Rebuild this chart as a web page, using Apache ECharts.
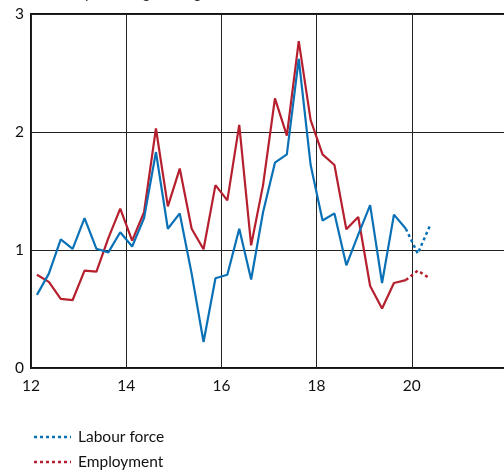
<!DOCTYPE html>
<html>
<head>
<meta charset="utf-8">
<script src="https://cdn.jsdelivr.net/npm/echarts@6/dist/echarts.min.js"></script>
<style>
html,body{margin:0;padding:0;background:#fff;}
#chart{width:504px;height:476px;}
</style>
</head>
<body>
<div id="chart"></div>
<script>
// Quarter positions (year + quarter midpoints)
const periods = [12.125,12.375,12.625,12.875,13.125,13.375,13.625,13.875,
  14.125,14.375,14.625,14.875,15.125,15.375,15.625,15.875,
  16.125,16.375,16.625,16.875,17.125,17.375,17.625,17.875,
  18.125,18.375,18.625,18.875,19.125,19.375,19.625,19.875];
const forecastPeriods = [19.875,20.125,20.375];

const labourForce = [0.62,0.80,1.09,1.01,1.27,1.01,0.98,1.15,
  1.03,1.27,1.83,1.18,1.31,0.80,0.22,0.76,
  0.79,1.18,0.75,1.32,1.74,1.81,2.62,1.72,
  1.25,1.31,0.87,1.13,1.38,0.72,1.30,1.18];
const labourForceForecast = [1.18,0.97,1.20];

const employment = [0.79,0.73,0.585,0.576,0.825,0.816,1.10,1.35,
  1.08,1.32,2.03,1.37,1.69,1.18,1.006,1.55,
  1.42,2.06,1.04,1.55,2.285,1.97,2.77,2.10,
  1.81,1.72,1.175,1.28,0.695,0.505,0.72,0.745];
const employmentForecast = [0.745,0.825,0.76];

const yTicks = [0,1,2,3];
const xTicks = [12,14,16,18,20];
const legendNames = ['Labour force','Employment'];

const BLUE = '#0a71b6';
const RED = '#b51f2e';
const FONT = 'Lato, "Open Sans", sans-serif';

function pairs(xs, ys){ return xs.map((x,i)=>[x, ys[i]]); }

const legendColors = [BLUE, RED];
const legendGraphics = [];
legendNames.forEach((name, i) => {
  const y = 437 + i * 25;
  legendGraphics.push({type:'line', shape:{x1:34, y1:y, x2:71, y2:y},
    style:{stroke:legendColors[i], lineWidth:2.5, lineDash:[3,3]}});
  legendGraphics.push({type:'text', x:78, y:y,
    style:{text:name, font:'15.5px ' + FONT, fill:'#111', verticalAlign:'middle'}});
});

const chart = echarts.init(document.getElementById('chart'));
chart.setOption({
  animation:false,
  backgroundColor:'#fff',
  textStyle:{fontFamily:FONT},
  graphic:[{
    type:'text', left:35, top:-14,
    style:{text:'Annual percentage change', font:'15px ' + FONT, fill:'#333'}
  }].concat(legendGraphics),
  grid:{left:31, top:14, width:476, height:354, containLabel:false, outerBoundsMode:'none',
    show:true, borderColor:'#111', borderWidth:2, backgroundColor:'transparent'},
  xAxis:{
    type:'value', min:12, max:22, interval:2,
    axisLine:{show:false}, axisTick:{show:false},
    splitLine:{show:true, lineStyle:{color:'#222', width:1}},
    axisLabel:{color:'#111', fontSize:15.5, fontFamily:FONT, margin:10,
      formatter:function(v){ return xTicks.indexOf(v) >= 0 ? String(v) : ''; }}
  },
  yAxis:{
    type:'value', min:0, max:3, interval:1,
    axisLine:{show:false}, axisTick:{show:false},
    splitLine:{show:true, lineStyle:{color:'#222', width:1}},
    axisLabel:{color:'#111', fontSize:15.5, fontFamily:FONT, margin:7,
      formatter:function(v){ return yTicks.indexOf(v) >= 0 ? String(v) : ''; }}
  },
  series:[
    {name:'Labour force', type:'line', data:pairs(periods, labourForce), showSymbol:false, symbol:'none',
      lineStyle:{color:BLUE, width:2.2}, itemStyle:{color:BLUE}, z:3},
    {name:'Employment', type:'line', data:pairs(periods, employment), showSymbol:false, symbol:'none',
      lineStyle:{color:RED, width:2.2}, itemStyle:{color:RED}, z:2},
    {name:'Labour force forecast', type:'line', data:pairs(forecastPeriods, labourForceForecast), showSymbol:false, symbol:'none',
      lineStyle:{color:BLUE, width:2.5, type:[3,3]}, itemStyle:{color:BLUE}, z:3},
    {name:'Employment forecast', type:'line', data:pairs(forecastPeriods, employmentForecast), showSymbol:false, symbol:'none',
      lineStyle:{color:RED, width:2.5, type:[3,3]}, itemStyle:{color:RED}, z:2}
  ]
});
</script>
</body>
</html>
